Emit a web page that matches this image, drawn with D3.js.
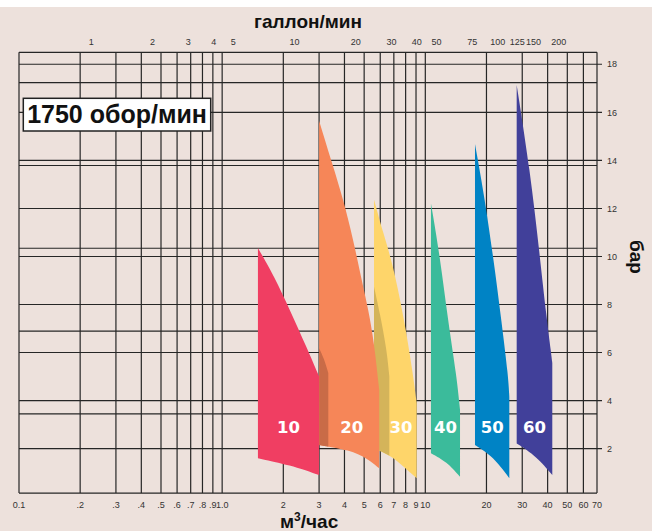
<!DOCTYPE html>
<html>
<head>
<meta charset="utf-8">
<script src="https://cdn.jsdelivr.net/npm/d3@7"></script>
<style>
  html, body { margin: 0; padding: 0; background: #fff; }
  svg { display: block; }
  text { font-family: "Liberation Sans", Arial, Helvetica, sans-serif; }
</style>
</head>
<body>
<svg id="chart" width="657" height="531"></svg>
<script>
// Flow axis (m³/h), log scale grid lines and their labels
const flowTicks = [0.1, 0.2, 0.3, 0.4, 0.5, 0.6, 0.7, 0.8, 0.9, 1, 2, 3, 4, 5, 6, 7, 8, 9, 10, 20, 30, 40, 50, 60, 70];
const flowTickLabels = ["0.1", ".2", ".3", ".4", ".5", ".6", ".7", ".8", ".9", "1.0", "2", "3", "4", "5", "6", "7", "8", "9", "10", "20", "30", "40", "50", "60", "70"];

// Secondary flow axis in US gallons per minute
const gpmTicks = [1, 2, 3, 4, 5, 10, 20, 30, 40, 50, 75, 100, 125, 150, 200];
const GPM_TO_M3H = 0.2271;

// Pressure axis (bar) and the extra psi reference lines
const barTicks = [2, 4, 6, 8, 10, 12, 14, 16, 18];
const psiLines = [50, 100, 150, 200, 250];
const PSI_TO_BAR = 0.0689476;

// Pump sizes
const sizes = ["10", "20", "30", "40", "50", "60"];

// Each operating envelope: upper-right edge [flow, bar] from the top tip down to
// the knee, and the lower edge from bottom-left to bottom-right.
const edge10 = [[1.50, 10.35], [1.80, 9.20], [2.16, 7.75], [2.61, 6.20], [3.0, 5.0]];
const base10 = [[1.50, 1.60], [2.16, 1.32], [3.0, 0.90]];

const edge20 = [[3.0, 15.65], [3.52, 13.74], [3.95, 12.35], [4.42, 10.69], [4.86, 9.02], [5.24, 7.80], [5.60, 6.40], [5.93, 4.44]];
const base20 = [[3.0, 2.15], [4.26, 1.94], [5.15, 1.60], [5.93, 1.18]];
const shade20 = [[3.0, 6.18], [3.17, 5.77], [3.33, 5.15]];

const edge30 = [[5.59, 12.37], [6.21, 10.97], [6.96, 9.60], [7.94, 7.22], [8.73, 5.0], [9.07, 3.89]];
const base30 = [[5.59, 2.01], [6.65, 1.74], [7.51, 1.39], [9.07, 0.77]];
const shade30 = [[5.59, 8.74], [5.98, 7.64], [6.46, 6.11], [6.65, 5.0]];

const edge40 = [[10.66, 12.21], [11.81, 9.99], [12.98, 7.22], [14.27, 5.0], [14.82, 3.61]];
const base40 = [[10.66, 1.81], [12.74, 1.46], [14.82, 0.83]];

const edge50 = [[17.56, 14.68], [19.29, 12.77], [21.61, 9.99], [23.77, 7.22], [25.61, 5.0], [25.91, 4.16]];
const base50 = [[17.56, 2.15], [21.61, 1.67], [25.91, 0.77]];

const edge60 = [[28.17, 17.14], [32.76, 13.59], [36.40, 10.2], [39.57, 7.40], [41.60, 6.00], [42.17, 5.57]];
const base60 = [[28.17, 2.22], [35.34, 1.67], [42.17, 0.90]];

const colors = ["#f03e62", "#f68658", "#fed56a", "#3bbb9b", "#0083c5", "#41409a"];
const shadeColors = { "20": "#c96b47", "30": "#d4b45a" };

const fins = [
  { size: sizes[0], edge: edge10, base: base10, shade: null, color: colors[0] },
  { size: sizes[1], edge: edge20, base: base20, shade: shade20, color: colors[1] },
  { size: sizes[2], edge: edge30, base: base30, shade: shade30, color: colors[2] },
  { size: sizes[3], edge: edge40, base: base40, shade: null, color: colors[3] },
  { size: sizes[4], edge: edge50, base: base50, shade: null, color: colors[4] },
  { size: sizes[5], edge: edge60, base: base60, shade: null, color: colors[5] }
];

const svg = d3.select("#chart");
const W = 657, H = 531;

// Paper background
svg.append("rect").attr("x", 0).attr("y", 7).attr("width", 652).attr("height", H - 7).attr("fill", "#ede1dc");

const x = d3.scaleLog().domain([0.1, 70]).range([19, 597]);
const y = d3.scaleLinear().domain([0.15, 18.5]).range([493.1, 52.3]);
const [yBot, yTop] = y.domain();

const gridColor = "#262626";
const grid = svg.append("g");

// Horizontal bar lines (extend past the frame as ticks)
grid.selectAll("line.bar").data(barTicks).join("line")
  .attr("x1", x(0.1)).attr("x2", x(70) + 5)
  .attr("y1", d => y(d)).attr("y2", d => y(d))
  .attr("stroke", gridColor).attr("stroke-width", 1.1);

// psi lines
grid.selectAll("line.psi").data(psiLines).join("line")
  .attr("x1", x(0.1)).attr("x2", x(70))
  .attr("y1", d => y(d * PSI_TO_BAR)).attr("y2", d => y(d * PSI_TO_BAR))
  .attr("stroke", gridColor).attr("stroke-width", 1.1);

// Vertical flow lines
grid.selectAll("line.flow").data(flowTicks).join("line")
  .attr("x1", d => x(d)).attr("x2", d => x(d))
  .attr("y1", y(yBot)).attr("y2", y(yTop))
  .attr("stroke", gridColor).attr("stroke-width", 1.2);

// Frame top/bottom
grid.append("line").attr("x1", x(0.1)).attr("x2", x(70)).attr("y1", y(yTop)).attr("y2", y(yTop))
  .attr("stroke", gridColor).attr("stroke-width", 1.2);
grid.append("line").attr("x1", x(0.1)).attr("x2", x(70)).attr("y1", y(yBot)).attr("y2", y(yBot))
  .attr("stroke", gridColor).attr("stroke-width", 1.2);

// Axis labels
svg.append("g").selectAll("text").data(flowTicks).join("text")
  .attr("x", d => x(d)).attr("y", 508)
  .attr("text-anchor", "middle").attr("font-size", 9).attr("fill", "#333")
  .text((d, i) => flowTickLabels[i]);

svg.append("g").selectAll("text").data(gpmTicks).join("text")
  .attr("x", d => x(d * GPM_TO_M3H)).attr("y", 45)
  .attr("text-anchor", "middle").attr("font-size", 9).attr("fill", "#333")
  .text(d => d);

svg.append("g").selectAll("text").data(barTicks).join("text")
  .attr("x", x(70) + 10).attr("y", d => y(d)).attr("dy", "0.35em")
  .attr("font-size", 9).attr("fill", "#333")
  .text(d => d);

// Titles
svg.append("text").attr("x", 308).attr("y", 28).attr("text-anchor", "middle")
  .attr("font-size", 19).attr("font-weight", "bold").attr("fill", "#111").text("галлон/мин");

const xt = svg.append("text").attr("x", 280).attr("y", 528)
  .attr("font-size", 19).attr("font-weight", "bold").attr("fill", "#111");
xt.append("tspan").text("м");
xt.append("tspan").attr("font-size", 12).attr("dy", -7).text("3");
xt.append("tspan").attr("dy", 7).text("/час");

svg.append("text").attr("transform", "translate(630,257) rotate(90)")
  .attr("text-anchor", "middle").attr("font-size", 19).attr("font-weight", "bold")
  .attr("fill", "#111").text("бар");

// Speed badge
svg.append("rect").attr("x", 23.3).attr("y", 98.3).attr("width", 187.4).attr("height", 32.7)
  .attr("fill", "#fff").attr("stroke", "#222").attr("stroke-width", 1.5);
svg.append("text").attr("x", 117).attr("y", 123.3).attr("text-anchor", "middle")
  .attr("font-size", 25).attr("font-weight", "bold").attr("fill", "#111").text("1750 обор/мин");

// Envelope shapes (smooth B-spline edges through the sampled outline)
const line = d3.line().curve(d3.curveBasis);
const px = p => [x(p[0]), y(p[1])];

function finPath(f) {
  const up = line(f.edge.map(px));
  const down = line(f.base.slice().reverse().map(px));
  return up + "L" + down.slice(1) + "Z";
}

const defs = svg.append("defs");
const finLayer = svg.append("g");

// Draw right-to-left so smaller sizes sit over their neighbours
fins.slice().reverse().forEach(f => {
  const id = "clip" + f.size;
  defs.append("clipPath").attr("id", id).append("path").attr("d", finPath(f));
  finLayer.append("path").attr("d", finPath(f)).attr("fill", f.color);
  if (f.shade) {
    const s = f.shade;
    const last = s[s.length - 1];
    const d = line(s.map(px)) + "L" + x(last[0]) + "," + y(-2) + "L" + x(s[0][0]) + "," + y(-2) + "Z";
    finLayer.append("path").attr("d", d).attr("fill", shadeColors[f.size]).attr("clip-path", `url(#${id})`);
  }
});

// Size labels, centred in the unshaded part of each envelope
const LABEL_BAR = 2.66;
finLayer.selectAll("text.size").data(fins).join("text")
  .attr("x", f => {
    const left = f.shade ? x(f.shade[f.shade.length - 1][0]) : x(f.edge[0][0]);
    const right = x(f.base[f.base.length - 1][0]);
    return (left + right) / 2 - (f.shade ? 2 : 0);
  })
  .attr("y", y(LABEL_BAR))
  .attr("text-anchor", "middle")
  .style("font-family", "'DejaVu Sans', sans-serif")
  .attr("font-size", 16.5).attr("font-weight", "bold").attr("fill", "#fff")
  .text(f => f.size);
</script>
</body>
</html>
